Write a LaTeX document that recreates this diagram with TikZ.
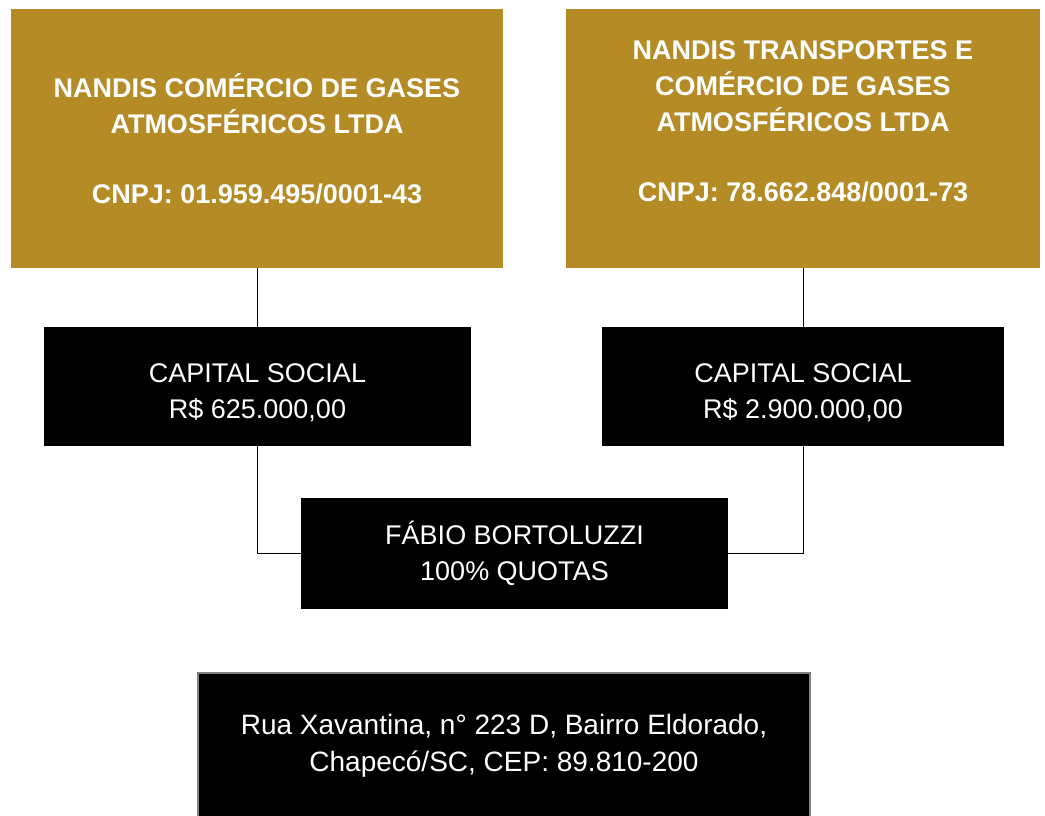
\documentclass[tikz,border=0pt]{standalone}
\usepackage{fontspec}
\setmainfont{Liberation Sans}
\usetikzlibrary{positioning}
\definecolor{gold}{RGB}{180,139,36}
\definecolor{frame}{RGB}{128,128,128}
\begin{document}
\begin{tikzpicture}[x=1pt,y=-1pt]
\tikzstyle{firm}=[fill=gold,text=white,align=center,inner sep=0pt,minimum height=259pt,font=\fontsize{27}{36}\selectfont\bfseries]
\tikzstyle{blackbox}=[fill=black,text=white,align=center,inner sep=0pt,font=\fontsize{27}{36}\selectfont]
\tikzstyle{link}=[draw=black,line width=1pt]
\useasboundingbox (0,0) rectangle (1045,815);
\node [firm,minimum width=492pt] at (257,138.5) (firma) {NANDIS COMÉRCIO DE GASES\\ATMOSFÉRICOS LTDA\\[34pt]CNPJ: 01.959.495/0001-43};
\node [firm,minimum width=474pt] at (803,138.5) (firmb) {NANDIS TRANSPORTES E\\COMÉRCIO DE GASES\\ATMOSFÉRICOS LTDA\\[34pt]CNPJ: 78.662.848/0001-73\\[-12pt] \strut};
\node [blackbox,minimum width=427pt,minimum height=119pt] at (257.5,386.5) (capa) {\rule{0pt}{32pt}CAPITAL SOCIAL\\R\$ 625.000,00};
\node [blackbox,minimum width=402pt,minimum height=119pt] at (803,386.5) (capb) {\rule{0pt}{32pt}CAPITAL SOCIAL\\R\$ 2.900.000,00};
\node [blackbox,minimum width=427pt,minimum height=111pt] at (514.5,553.5) (owner) {FÁBIO BORTOLUZZI\\100\% QUOTAS};
\node [blackbox,draw=frame,line width=2.5pt,minimum width=612pt,minimum height=146pt,font=\fontsize{28}{37}\selectfont] at (504,746) (addr) {Rua Xavantina, n° 223 D, Bairro Eldorado,\\Chapecó/SC, CEP: 89.810-200};
\draw [link] (firma.south -| capa) -- (capa.north);
\draw [link] (firmb.south -| capb) -- (capb.north);
\draw [link] (capa.south) |- (owner.west);
\draw [link] (capb.south) |- (owner.east);
\end{tikzpicture}
\end{document}
